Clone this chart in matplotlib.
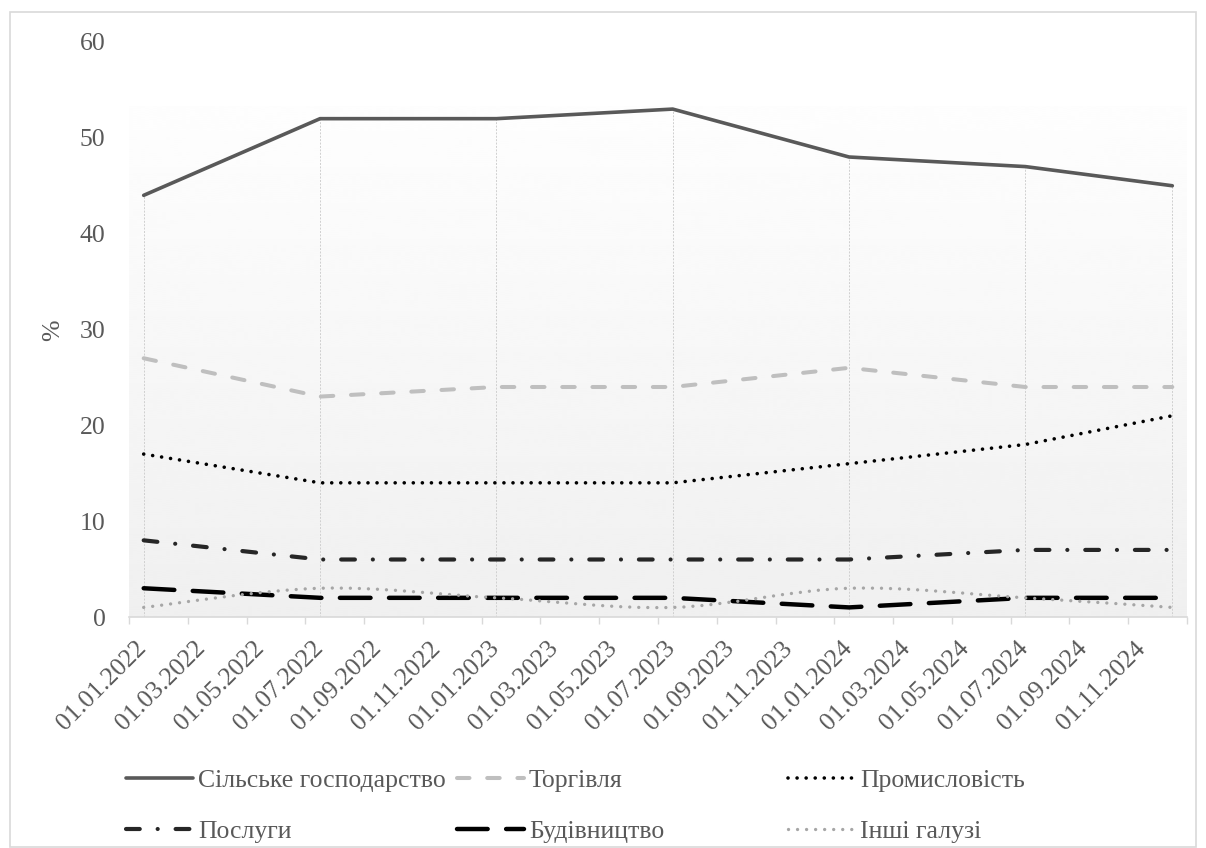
import numpy as np
import matplotlib
matplotlib.use('Agg')
import matplotlib.pyplot as plt
from matplotlib.path import Path
from matplotlib.patches import PathPatch, Rectangle
from matplotlib.lines import Line2D
from matplotlib.transforms import ScaledTranslation

plt.rcParams['font.family'] = ['Liberation Serif', 'DejaVu Serif']

# survey dates (year, month) and shares by sector, %
dates = [(2022, 1), (2022, 7), (2023, 1), (2023, 7), (2024, 1), (2024, 7), (2024, 12)]
agriculture = [44, 52, 52, 53, 48, 47, 45]
trade = [27, 23, 24, 24, 26, 24, 24]
industry = [17, 14, 14, 14, 16, 18, 21]
services = [8, 6, 6, 6, 6, 7, 7]
construction = [3, 2, 2, 2, 1, 2, 2]
other = [1, 3, 2, 1, 3, 2, 1]

labels = ['Сільське господарство', 'Торгівля', 'Промисловість',
          'Послуги', 'Будівництво', 'Інші галузі']

# month axis: Jan 2022 .. Dec 2024, tick every second month
start_year = 2022
n_months = 36
tick_months = list(range(0, n_months, 2))
tick_labels = [f'01.{(m % 12) + 1:02d}.{start_year + m // 12}' for m in tick_months]

x = np.array([(y - start_year) * 12 + (m - 1) for y, m in dates], dtype=float)

grey_text = '#595959'
axis_grey = '#D9D9D9'
fs = 18.5

fig = plt.figure(figsize=(12.06, 8.48), dpi=100)
ax = fig.add_axes([129 / 1206, (848 - 617) / 848, (1187 - 129) / 1206, (617 - 42) / 848])

# chart frame
fig.patches.append(Rectangle((9.5 / 1206, 1.5 / 848), 1186 / 1206, 835 / 848,
                             transform=fig.transFigure, fill=False,
                             edgecolor=axis_grey, lw=1.2))

# plot-area fill: white on top fading to light grey
grad = np.linspace(0.94, 0.995, 256).reshape(-1, 1)
ax.imshow(grad, cmap='gray', vmin=0, vmax=1, origin='lower', aspect='auto',
          extent=[-0.5, n_months - 0.5, 0, 53.3], zorder=0, interpolation='bicubic')

# drop lines from the highest series to the axis
series = [agriculture, trade, industry, services, construction, other]
top = np.max(np.array(series), axis=0)
ax.vlines(x, 0, top, colors='#CFCFCF', lw=0.7, linestyles=(0, (2, 1.5)), zorder=1)

styles = [
    dict(color='#595959', lw=2.6, ls='-'),
    dict(color='#BFBFBF', lw=2.9, ls=(0, (3.1, 4.4))),
    dict(color='#000000', lw=2.6, ls=(0, (0.01, 2.5))),
    dict(color='#262626', lw=3.0, ls=(0, (3.3, 4.3, 0.01, 4.3))),
    dict(color='#000000', lw=3.2, ls=(0, (6.9, 4.15))),
    dict(color='#A6A6A6', lw=2.4, ls=(0, (0.01, 2.7))),
]

for vals, st in zip(series[:5], styles[:5]):
    ax.plot(x, vals, color=st['color'], lw=st['lw'], linestyle=st['ls'],
            dash_capstyle='round', solid_capstyle='round', zorder=3)


def smooth_path(xs, ys):
    # Catmull-Rom style bezier through the points
    pts = np.column_stack([xs, ys]).astype(float)
    verts = [pts[0]]
    codes = [Path.MOVETO]
    n = len(pts)
    for i in range(n - 1):
        p0 = pts[i - 1] if i > 0 else pts[i]
        p1, p2 = pts[i], pts[i + 1]
        p3 = pts[i + 2] if i + 2 < n else pts[i + 1]
        verts += [p1 + (p2 - p0) / 6, p2 - (p3 - p1) / 6, p2]
        codes += [Path.CURVE4] * 3
    return Path(verts, codes)


st = styles[5]
ax.add_patch(PathPatch(smooth_path(x, other), fill=False, edgecolor=st['color'],
                       lw=st['lw'], linestyle=st['ls'], capstyle='round', zorder=3))

ax.set_xlim(-0.5, n_months - 0.5)
ax.set_ylim(0, 60)
ax.set_yticks(range(0, 61, 10))
ax.set_xticks([m - 0.5 for m in tick_months] + [n_months - 0.5])
ax.set_xticklabels([])
ax.tick_params(axis='x', length=5, width=1, color=axis_grey)
ax.tick_params(axis='y', length=0, pad=17, labelsize=fs, labelcolor=grey_text)

# rotated date labels, right end hanging just past each tick
label_tr = ax.get_xaxis_transform() + ScaledTranslation(0.14, -0.28, fig.dpi_scale_trans)
for m, txt in zip(tick_months, tick_labels):
    ax.text(m - 0.5, 0, txt, transform=label_tr, rotation=45, rotation_mode='anchor',
            ha='right', va='center', fontsize=fs, color=grey_text)

for side in ['top', 'right', 'left']:
    ax.spines[side].set_visible(False)
ax.spines['bottom'].set_color(axis_grey)
ax.spines['bottom'].set_linewidth(1.2)
ax.patch.set_alpha(0)

fig.text(53 / 1206, 1 - 330 / 848, '%', rotation=90, ha='center', va='center',
         fontsize=fs, color=grey_text)

# legend: three columns of two entries
handles = [Line2D([], [], color=s['color'], lw=s['lw'], linestyle=s['ls'],
                  dash_capstyle='round', solid_capstyle='round') for s in styles]
col_x = [126, 457, 788]
for c in range(3):
    idx = [c, c + 3]
    fig.legend([handles[i] for i in idx], [labels[i] for i in idx],
               loc='upper left', bbox_to_anchor=(col_x[c] / 1206, 1 - 769 / 848),
               frameon=False, fontsize=fs, handlelength=2.6, handletextpad=0.2,
               labelspacing=1.1, borderpad=0, borderaxespad=0, labelcolor=grey_text)

fig.savefig('out.png', dpi=100)
